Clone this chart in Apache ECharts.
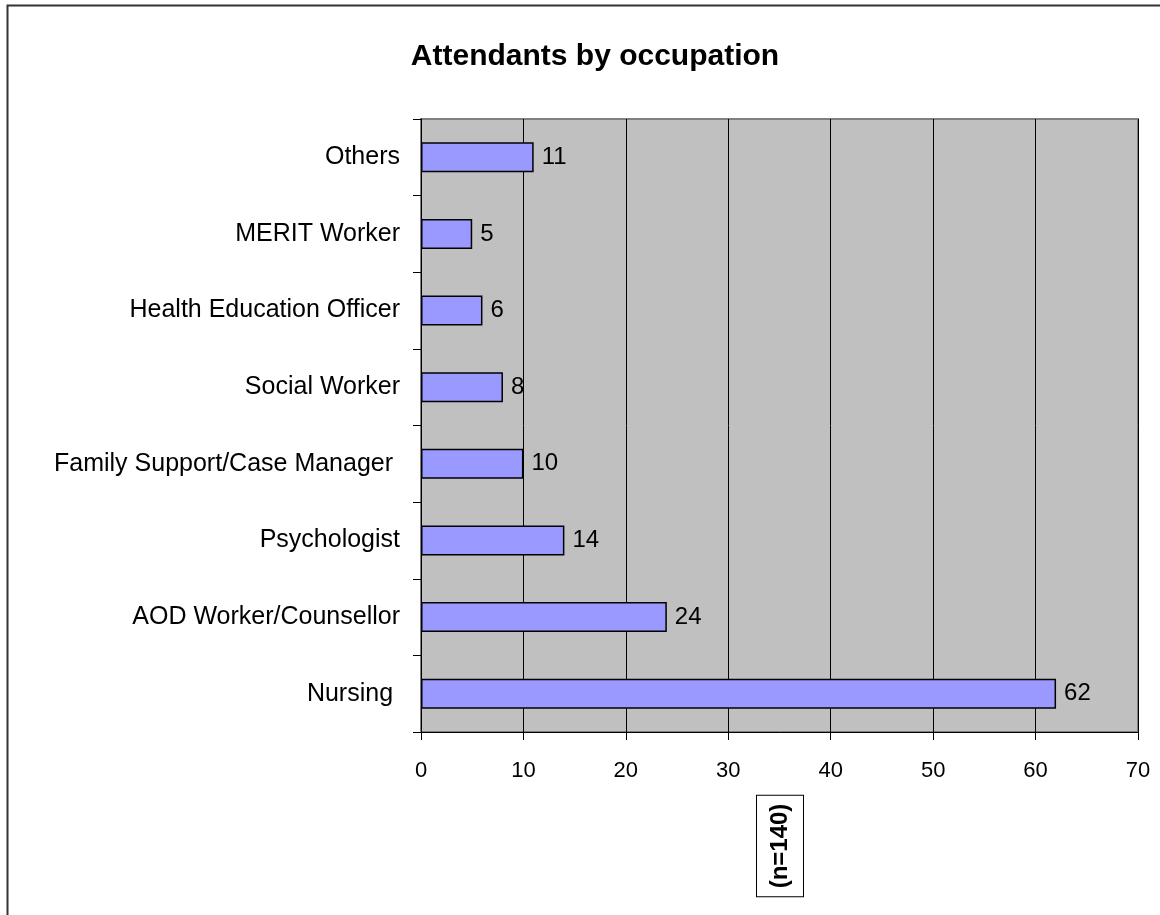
<!DOCTYPE html>
<html><head><meta charset="utf-8">
<script src="https://cdn.jsdelivr.net/npm/echarts@6/dist/echarts.min.js"></script>
<style>html,body{margin:0;padding:0;background:#fff}#c{width:1160px;height:915px}</style>
</head><body><div id="c"></div>
<script>
const categories = ['Nursing ', 'AOD Worker/Counsellor', 'Psychologist', 'Family Support/Case Manager ', 'Social Worker', 'Health Education Officer', 'MERIT Worker', 'Others'];
const values = [62, 24, 14, 10, 8, 6, 5, 11];
const xTicks = [0, 10, 20, 30, 40, 50, 60, 70];
const titleText = 'Attendants by occupation';
const noteText = '(n=140)';

const chart = echarts.init(document.getElementById('c'));
const F = '"Liberation Sans", Arial, sans-serif';
chart.setOption({
  animation: false,
  backgroundColor: '#fff',
  title: { text: titleText, left: 590, top: 37, textAlign: 'center',
    textStyle: { fontFamily: F, fontSize: 30, fontWeight: 'bold', color: '#000' } },
  grid: { left: 421, top: 119, right: 22, bottom: 183, show: true, backgroundColor: '#C0C0C0', borderColor: '#808080', borderWidth: 2 },
  xAxis: { type: 'value', min: xTicks[0], max: xTicks[xTicks.length-1], interval: 10,
    axisLine: { show: true, lineStyle: { color: '#000', width: 1 } },
    axisTick: { show: true, length: 8, lineStyle: { color: '#000' } },
    axisLabel: { fontFamily: F, fontSize: 22, color: '#000', margin: 28 },
    splitLine: { show: true, lineStyle: { color: '#000', width: 1 } } },
  yAxis: { type: 'category', data: categories,
    axisLine: { show: true, lineStyle: { color: '#000', width: 1 } },
    axisTick: { show: true, length: 8, alignWithLabel: false, lineStyle: { color: '#000' } },
    axisLabel: { fontFamily: F, fontSize: 25, color: '#000', margin: 21 } },
  series: [{ type: 'bar', data: values, barWidth: '39%',
    itemStyle: { color: '#9999FF', borderColor: '#000', borderWidth: 1.5 },
    label: { show: true, position: 'right', distance: 8, fontFamily: F, fontSize: 24, color: '#000' } }],
  graphic: [
    { type: 'rect', shape: { x: 7.5, y: 5.5, width: 1200, height: 1000 }, style: { fill: 'none', stroke: '#333', lineWidth: 2 }, silent: true },
    { type: 'text', x: 780, y: 846, rotation: Math.PI / 2,
      style: { text: noteText, fontFamily: F, fontSize: 24, fontWeight: 'bold', fill: '#000',
        align: 'center', verticalAlign: 'middle', borderColor: '#000', borderWidth: 1, padding: [11, 8, 11, 8], backgroundColor: '#fff' } }
  ]
});
</script></body></html>
